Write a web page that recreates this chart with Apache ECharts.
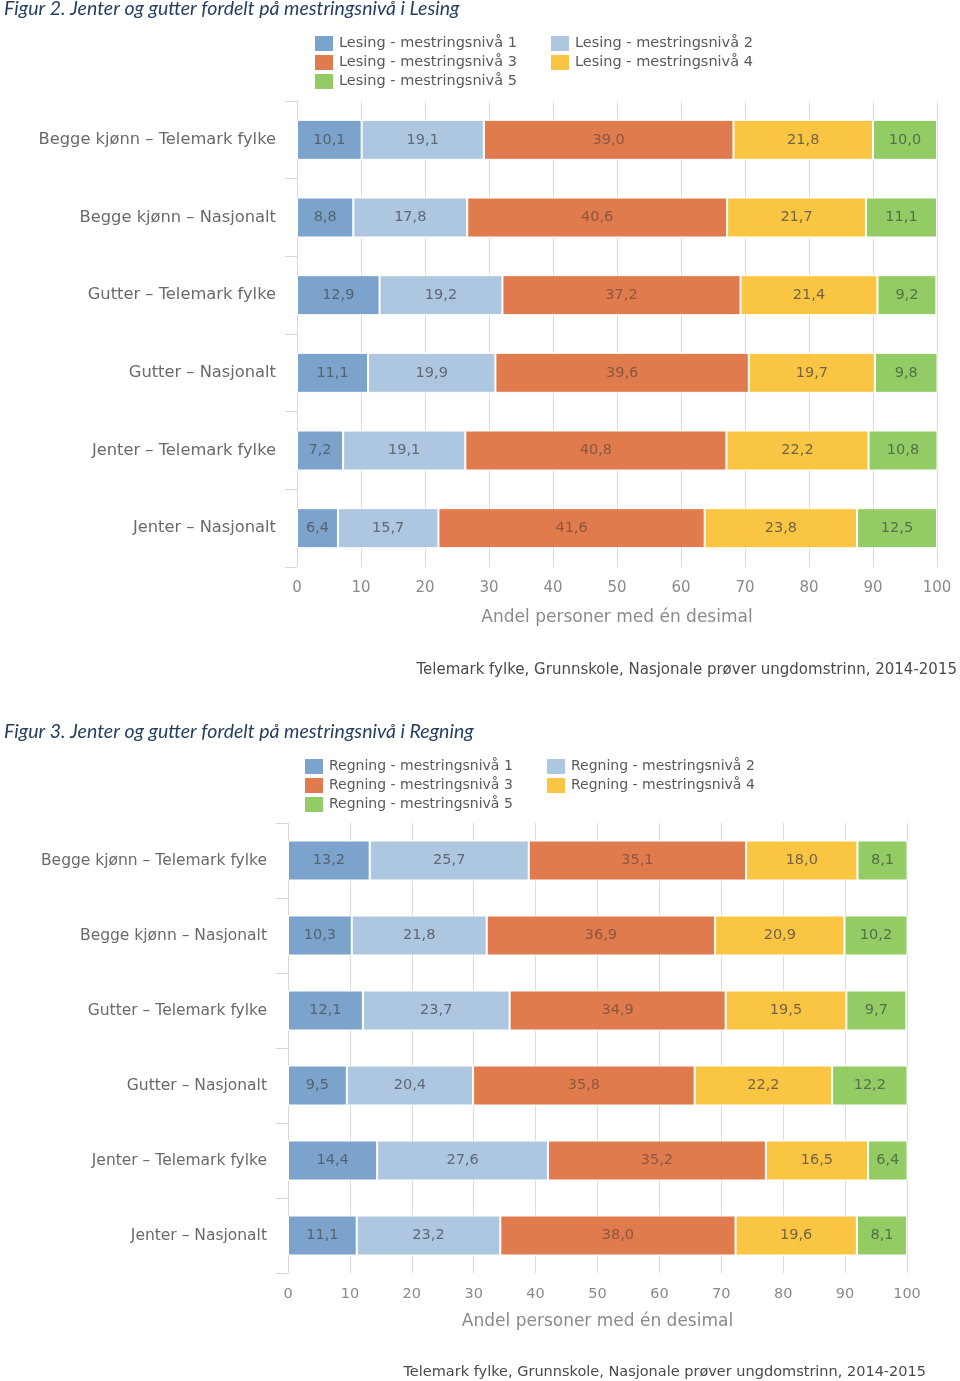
<!DOCTYPE html>
<html><head><meta charset="utf-8">
<script src="https://cdn.jsdelivr.net/npm/echarts@6/dist/echarts.min.js"></script>
<style>html,body{margin:0;padding:0;background:#fff}#c{width:960px;height:1381px}</style>
</head><body><div id="c"></div>
<script>
const categories = ['Begge kjønn – Telemark fylke','Begge kjønn – Nasjonalt','Gutter – Telemark fylke','Gutter – Nasjonalt','Jenter – Telemark fylke','Jenter – Nasjonalt'];
const lesingNames = ['Lesing - mestringsnivå 1','Lesing - mestringsnivå 2','Lesing - mestringsnivå 3','Lesing - mestringsnivå 4','Lesing - mestringsnivå 5'];
const regningNames = ['Regning - mestringsnivå 1','Regning - mestringsnivå 2','Regning - mestringsnivå 3','Regning - mestringsnivå 4','Regning - mestringsnivå 5'];
const lesing1 = [10.1, 8.8, 12.9, 11.1, 7.2, 6.4];
const lesing2 = [19.1, 17.8, 19.2, 19.9, 19.1, 15.7];
const lesing3 = [39.0, 40.6, 37.2, 39.6, 40.8, 41.6];
const lesing4 = [21.8, 21.7, 21.4, 19.7, 22.2, 23.8];
const lesing5 = [10.0, 11.1, 9.2, 9.8, 10.8, 12.5];
const regning1 = [13.2, 10.3, 12.1, 9.5, 14.4, 11.1];
const regning2 = [25.7, 21.8, 23.7, 20.4, 27.6, 23.2];
const regning3 = [35.1, 36.9, 34.9, 35.8, 35.2, 38.0];
const regning4 = [18.0, 20.9, 19.5, 22.2, 16.5, 19.6];
const regning5 = [8.1, 10.2, 9.7, 12.2, 6.4, 8.1];
const xTicks = [0,10,20,30,40,50,60,70,80,90,100];
const title1 = 'Figur 2. Jenter og gutter fordelt på mestringsnivå i Lesing';
const title2 = 'Figur 3. Jenter og gutter fordelt på mestringsnivå i Regning';
const axisName = 'Andel personer med én desimal';
const sourceText = 'Telemark fylke, Grunnskole, Nasjonale prøver ungdomstrinn, 2014-2015';

const colors = ['#7ca3cc','#aec7e1','#e07b4d','#fbc544','#93cb64'];
const labelColors = ['#55636f','#5f6873','#8d5640','#726545','#55704a'];
const FONT = 'DejaVu Sans';

function mkSeries(names, data, idx, stack){
  return names.map((n,i)=>({
    name:n, type:'bar', stack:stack, xAxisIndex:idx, yAxisIndex:idx,
    barWidth:40, data:data[i],
    itemStyle:{color:colors[i], borderColor:'#fff', borderWidth:1},
    label:{show:true, position:'inside', color:labelColors[i], fontFamily:FONT, fontSize:14.5,
      formatter:p=>p.value.toFixed(1).replace('.',',')},
    emphasis:{disabled:true}
  }));
}
function xAx(idx, gap, fs){
  return {type:'value', gridIndex:idx, min:0, max:100, interval:10,
    name:axisName, nameLocation:'middle', nameGap:gap,
    nameTextStyle:{color:'#8a8a8a', fontFamily:FONT, fontSize:17},
    axisLine:{show:false}, axisTick:{show:false},
    axisLabel:{color:'#8a8a8a', fontFamily:FONT, fontSize:fs, margin:14, formatter:v=>xTicks.includes(v)?String(v):''},
    splitLine:{lineStyle:{color:'#dcdcdc'}}};
}
function yAx(idx, fs){
  return {type:'category', gridIndex:idx, inverse:true, data:categories,
    axisLine:{show:true, lineStyle:{color:'#d8d8d8'}},
    axisTick:{show:true, length:12, lineStyle:{color:'#d8d8d8'}},
    axisLabel:{color:'#6a6a6a', fontFamily:FONT, fontSize:fs, margin:21},
    splitLine:{show:false}};
}
function leg(names, left, top, fs){
  return {orient:'vertical', left:left, top:top, padding:0, data:names, icon:'rect', itemWidth:20, itemHeight:17, itemGap:0,
    textStyle:{color:'#5a5a5a', fontFamily:FONT, fontSize:fs, lineHeight:17}, selectedMode:false};
}
const chart = echarts.init(document.getElementById('c'), null, {renderer:'canvas'});
chart.setOption({
  animation:false,
  title:[
    {text:title1, left:4, top:-1, padding:0, textStyle:{fontFamily:'Lato', fontStyle:'italic', fontWeight:'normal', fontSize:19.5, color:'#243f60'}},
    {text:title2, left:4, top:722, padding:0, textStyle:{fontFamily:'Lato', fontStyle:'italic', fontWeight:'normal', fontSize:19.5, color:'#243f60'}},
    {text:sourceText, right:3, top:663, padding:0, textStyle:{fontFamily:FONT, fontWeight:'normal', fontSize:15, color:'#4a4a4a'}},
    {text:sourceText, right:34, top:1365, padding:0, textStyle:{fontFamily:FONT, fontWeight:'normal', fontSize:14.5, color:'#4a4a4a'}}
  ],
  legend:[
    leg([lesingNames[0],lesingNames[2],lesingNames[4]], 313, 34, 14.5),
    leg([lesingNames[1],lesingNames[3]], 549, 34, 14.5),
    leg([regningNames[0],regningNames[2],regningNames[4]], 303, 757, 14),
    leg([regningNames[1],regningNames[3]], 545, 757, 14)
  ],
  grid:[
    {left:297, right:23, top:101, height:466},
    {left:288, right:53, top:823, height:450}
  ],
  xAxis:[xAx(0, 42, 15), xAx(1, 40, 14.5)],
  yAxis:[yAx(0, 16.3), yAx(1, 15.5)],
  series:[].concat(
    mkSeries(lesingNames,[lesing1,lesing2,lesing3,lesing4,lesing5],0,'a'),
    mkSeries(regningNames,[regning1,regning2,regning3,regning4,regning5],1,'b')
  )
});
</script></body></html>
